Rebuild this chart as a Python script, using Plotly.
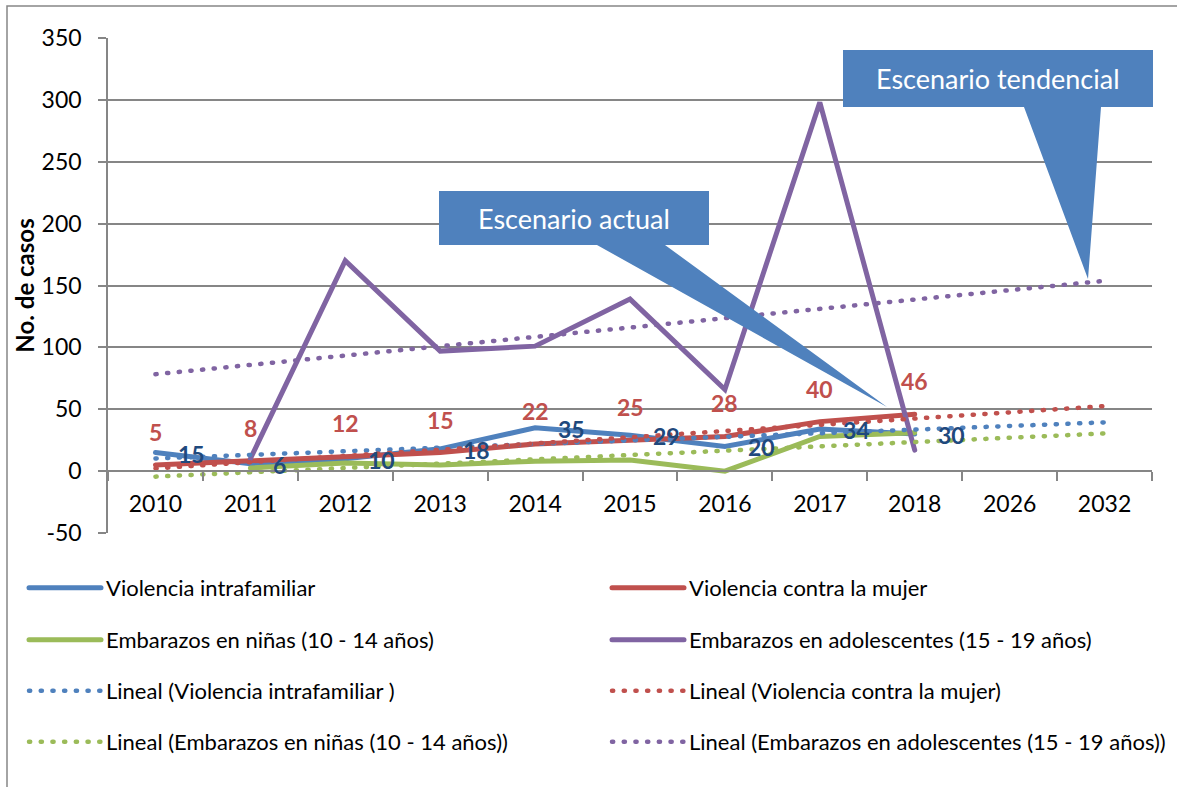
import numpy as np
import plotly.graph_objects as go

# ---------------- data ----------------
years = ['2010', '2011', '2012', '2013', '2014', '2015', '2016', '2017', '2018', '2026', '2032']
data_years = years[:9]
violencia_intrafamiliar = [15, 6, 10, 18, 35, 29, 20, 34, 30]
violencia_mujer = [5, 8, 12, 15, 22, 25, 28, 40, 46]
embarazos_ninas = [None, 2.5, 6.5, 5, 8, 9, 0, 28, 31]
embarazos_adolescentes = [None, 10, 170, 97, 101, 139, 66, 298, 17]
y_tick_values = [-50, 0, 50, 100, 150, 200, 250, 300, 350]
y_tick_labels = ['-50', '0', '50', '100', '150', '200', '250', '300', '350']

names = ['Violencia intrafamiliar', 'Violencia contra la mujer',
         'Embarazos en niñas (10 - 14 años)', 'Embarazos en adolescentes (15 - 19 años)']
trend_names = ['Lineal (Violencia intrafamiliar )', 'Lineal (Violencia contra la mujer)',
               'Lineal (Embarazos en niñas (10 - 14 años))',
               'Lineal (Embarazos en adolescentes (15 - 19 años))']
series = [violencia_intrafamiliar, violencia_mujer, embarazos_ninas, embarazos_adolescentes]
colors = ['#4F81BD', '#C0504D', '#9BBB59', '#8064A2']

FONT = 'Lato'

# plot area in pixels
W, H = 1177, 787
L, R, T, B = 108, 1152, 38, 533


def px(x):
    return (x - L) / (R - L)


def py(y):
    return (B - y) / (B - T)


fig = go.Figure()

# legend slots: (column x of sample start, row y of text centre)
col_x = [24, 607]
rows_y = [588, 640, 691, 742]
slots = [(0, 0), (1, 0), (0, 1), (1, 1), (0, 2), (1, 2), (0, 3), (1, 3)]
legend_ids = ['legend'] + [f'legend{i}' for i in range(2, 9)]

for k, (s, n, c) in enumerate(zip(series, names, colors)):
    fig.add_trace(go.Scatter(x=data_years, y=s, name=n, mode='lines',
                             line=dict(color=c, width=5), legend=legend_ids[k],
                             connectgaps=False))

# linear trendlines (least squares over the available points, extended to 2032)
for k, (s, n, c) in enumerate(zip(series, trend_names, colors)):
    idx = np.array([i for i, v in enumerate(s) if v is not None], dtype=float)
    vals = np.array([v for v in s if v is not None], dtype=float)
    slope, icpt = np.polyfit(idx, vals, 1)
    ends = [0, len(years) - 1]
    fig.add_trace(go.Scatter(x=[years[e] for e in ends], y=[icpt + slope * e for e in ends],
                             name=n, mode='lines', legend=legend_ids[4 + k],
                             line=dict(color=c, width=4.5, dash='1.2px,10.5px')))

annotations = []
# data labels
for i, v in enumerate(violencia_mujer):
    annotations.append(dict(x=i, y=v, xref='x', yref='y', text=str(v), showarrow=False,
                            xanchor='center', yanchor='middle', yshift=33,
                            font=dict(family=FONT, size=23, color='#C0504D', weight='bold')))
for i, v in enumerate(violencia_intrafamiliar):
    annotations.append(dict(x=i, y=v, xref='x', yref='y', text=str(v), showarrow=False,
                            xanchor='left', yanchor='middle', xshift=21, yshift=-1,
                            font=dict(family=FONT, size=23, color='#1F497D', weight='bold')))

# callouts
callouts = [
    dict(text='Escenario actual', box=(439, 191, 709, 245), base=(597, 665), tip=(887, 407)),
    dict(text='Escenario tendencial', box=(843, 50, 1153, 107), base=(1024, 1101), tip=(1088, 279)),
]
shapes = []
for co in callouts:
    x0, y0, x1, y1 = co['box']
    b0, b1 = co['base']
    tx, ty = co['tip']
    pts = [(x0, y0), (x1, y0), (x1, y1), (b1, y1), (tx, ty), (b0, y1), (x0, y1)]
    path = 'M ' + ' L '.join(f'{px(a):.5f},{py(b):.5f}' for a, b in pts) + ' Z'
    shapes.append(dict(type='path', path=path, xref='paper', yref='paper',
                       fillcolor='#4F81BD', line=dict(width=0), layer='above'))
    annotations.append(dict(x=px((x0 + x1) / 2), y=py((y0 + y1) / 2), xref='paper', yref='paper',
                            xanchor='center', yanchor='middle',
                            text=co['text'], showarrow=False,
                            font=dict(family=FONT, size=27, color='white')))

# outer chart border
shapes.append(dict(type='rect', xref='paper', yref='paper', x0=px(7), y0=py(800), x1=px(1200),
                   y1=py(6), line=dict(color='#868686', width=1.5), layer='below'))

leg_common = dict(orientation='h', xanchor='left', yanchor='middle', itemwidth=72,
                  bgcolor='rgba(0,0,0,0)',
                  font=dict(family=FONT, size=22, color='black'),
                  itemclick=False, itemdoubleclick=False)
legends = {}
for lid, (ci, ri) in zip(legend_ids, slots):
    legends[lid] = dict(x=px(col_x[ci]), y=py(rows_y[ri]), **leg_common)

fig.update_layout(
    width=W, height=H,
    margin=dict(l=L, r=W - R, t=T, b=H - B, autoexpand=False),
    paper_bgcolor='white', plot_bgcolor='white',
    font=dict(family=FONT, color='black'),
    showlegend=True,
    xaxis=dict(type='category', categoryorder='array', categoryarray=years,
               range=[-0.5, len(years) - 0.5], anchor='free', position=50 / 400,
               showline=True, linecolor='#868686', linewidth=1.5, showgrid=False,
               ticks='outside', tickson='boundaries', ticklen=9, tickcolor='#868686',
               tickwidth=1.5, ticklabelstandoff=13,
               tickfont=dict(family=FONT, size=23, color='black'), automargin=False),
    yaxis=dict(range=[-50, 350], tickmode='array', tickvals=y_tick_values,
               ticktext=y_tick_labels, showline=True, linecolor='#868686',
               linewidth=1.5, showgrid=True, gridcolor='#868686', gridwidth=1.5,
               zeroline=False, ticks='outside', ticklen=8, tickcolor='#868686', tickwidth=1.5,
               ticklabelstandoff=12,
               tickfont=dict(family=FONT, size=23, color='black'), automargin=False,
               title=dict(text='No. de casos', standoff=0,
                          font=dict(family=FONT, size=24, color='black', weight='bold'))),
    annotations=annotations,
    shapes=shapes,
    **legends,
)

post = ("document.body.style.margin='0';document.body.style.overflow='hidden';"
        "document.querySelectorAll('path.js-line').forEach(function(p){"
        "p.style.strokeLinecap='round';});")
fig.write_html('out.html', config={'displayModeBar': False}, post_script=post)
